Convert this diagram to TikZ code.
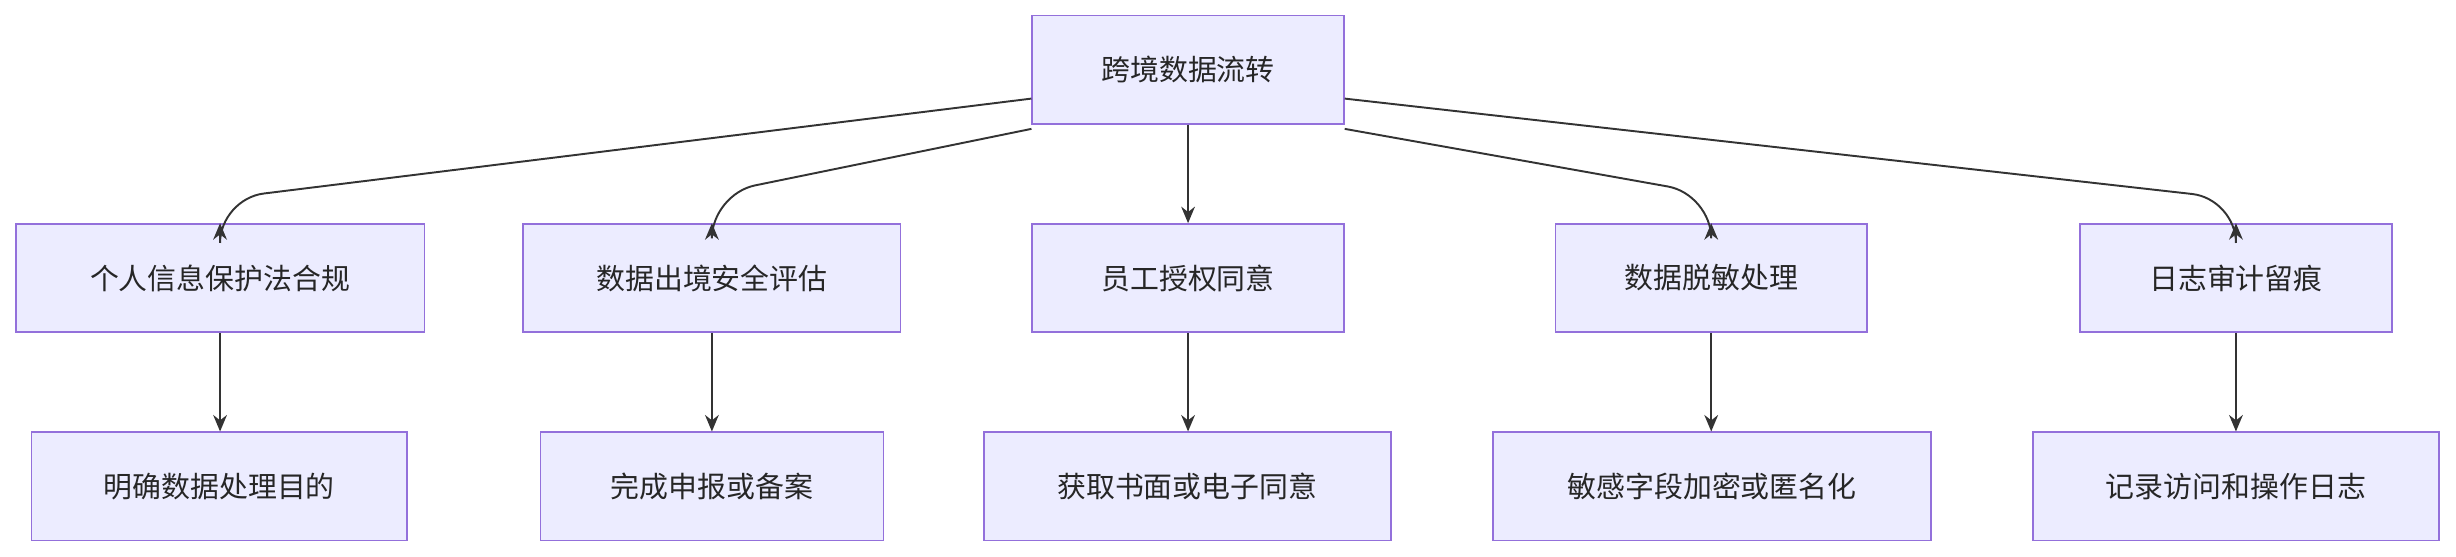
\documentclass[tikz,border=0pt]{standalone}
\usepackage{fontspec}
\newfontfamily\cjk{Noto Sans CJK SC}
\usetikzlibrary{arrows.meta}
\definecolor{nfill}{HTML}{ECECFF}
\definecolor{nline}{HTML}{9370DB}
\definecolor{eline}{HTML}{333333}
\begin{document}
\begin{tikzpicture}[x=0.02cm,y=-0.02cm,
  box/.style={draw=nline,fill=nfill,line width=0.6pt,minimum height=1.38cm,inner sep=0pt,font=\cjk\fontsize{10.5}{12}\selectfont,text=black!85},
  edge/.style={draw=eline,line width=0.7pt,-{Stealth[length=6pt,width=5pt]}}]
\useasboundingbox (0,0) rectangle (1568,355);
\node[box,minimum width=3.98cm] (t) at (758.5,44.5) {跨境数据流转};
\node[box,minimum width=5.22cm] (a) at (140.5,177.5) {个人信息保护法合规};
\node[box,minimum width=4.82cm] (b) at (454.5,177.5) {数据出境安全评估};
\node[box,minimum width=3.98cm] (c) at (758.5,177.5) {员工授权同意};
\node[box,minimum width=3.98cm] (d) at (1092.5,177.5) {数据脱敏处理};
\node[box,minimum width=3.98cm] (e) at (1427.5,177.5) {日志审计留痕};
\node[box,minimum width=4.80cm] (a2) at (140,310.5) {明确数据处理目的};
\node[box,minimum width=4.38cm] (b2) at (454.5,310.5) {完成申报或备案};
\node[box,minimum width=5.20cm] (c2) at (758,310.5) {获取书面或电子同意};
\node[box,minimum width=5.60cm] (d2) at (1093,310.5) {敏感字段加密或匿名化};
\node[box,minimum width=5.18cm] (e2) at (1427.5,310.5) {记录访问和操作日志};
\coordinate (ka) at (140.5,127);
\coordinate (kb) at (454.5,124);
\coordinate (kd) at (1092.5,124);
\coordinate (ke) at (1427.5,127);
\draw[edge,rounded corners=16pt] ([yshift=-10.5pt]t.west) -- (ka) -- (a.north);
\draw[edge,rounded corners=16pt] ([yshift=-21.5pt]t.west) -- (kb) -- (b.north);
\draw[edge] (t) -- (c);
\draw[edge,rounded corners=16pt] ([yshift=-21.5pt]t.east) -- (kd) -- (d.north);
\draw[edge,rounded corners=16pt] ([yshift=-10.5pt]t.east) -- (ke) -- (e.north);
\draw[edge] (a) -- (a.south |- a2.north);
\draw[edge] (b) -- (b.south |- b2.north);
\draw[edge] (c) -- (c.south |- c2.north);
\draw[edge] (d) -- (d.south |- d2.north);
\draw[edge] (e) -- (e.south |- e2.north);
\end{tikzpicture}
\end{document}
